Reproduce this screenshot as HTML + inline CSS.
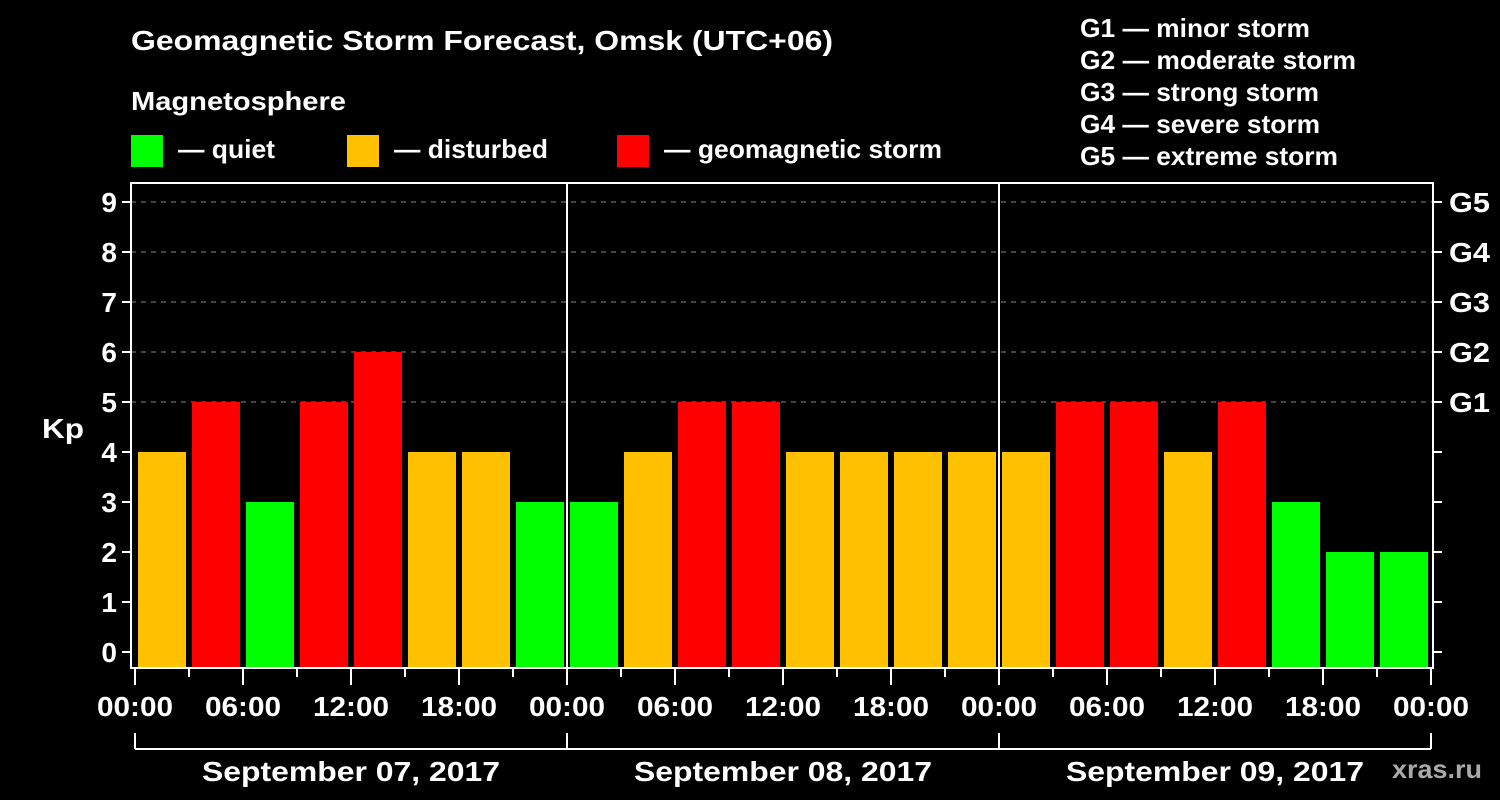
<!DOCTYPE html>
<html><head><meta charset="utf-8"><style>
body{margin:0;background:#000;width:1500px;height:800px;overflow:hidden}
svg{display:block;font-family:"Liberation Sans",Arial,sans-serif;font-weight:bold}
</style></head><body>
<svg id="c" width="1500" height="800">
<text x="131" y="50" fill="#fff" font-size="28" textLength="702" lengthAdjust="spacingAndGlyphs">Geomagnetic Storm Forecast, Omsk (UTC+06)</text>
<text x="131" y="110" fill="#fff" font-size="26" textLength="215" lengthAdjust="spacingAndGlyphs">Magnetosphere</text>
<g><rect x="131" y="135" width="32" height="32" fill="#00ff00"/><text x="178" y="158" fill="#fff" font-size="26" textLength="97" lengthAdjust="spacingAndGlyphs">— quiet</text></g>
<g><rect x="347" y="135" width="32" height="32" fill="#ffc000"/><text x="394" y="158" fill="#fff" font-size="26" textLength="154" lengthAdjust="spacingAndGlyphs">— disturbed</text></g>
<g><rect x="617" y="135" width="32" height="32" fill="#ff0000"/><text x="664" y="158" fill="#fff" font-size="26" textLength="278" lengthAdjust="spacingAndGlyphs">— geomagnetic storm</text></g>
<g fill="#fff" font-size="26">
<text x="1080" y="37" textLength="230" lengthAdjust="spacingAndGlyphs">G1 — minor storm</text><text x="1080" y="69" textLength="276" lengthAdjust="spacingAndGlyphs">G2 — moderate storm</text><text x="1080" y="101" textLength="239" lengthAdjust="spacingAndGlyphs">G3 — strong storm</text><text x="1080" y="133" textLength="240" lengthAdjust="spacingAndGlyphs">G4 — severe storm</text><text x="1080" y="165" textLength="258" lengthAdjust="spacingAndGlyphs">G5 — extreme storm</text></g>
<text x="42" y="438" fill="#fff" font-size="28" textLength="42" lengthAdjust="spacingAndGlyphs">Kp</text>
<text x="1392" y="778" fill="#aaa" font-size="26" textLength="90" lengthAdjust="spacingAndGlyphs">xras.ru</text>
<g id="plot"></g>
</svg>
<script>
const dates=["September 07, 2017","September 08, 2017","September 09, 2017"];
const kp=[4,5,3,5,6,4,4,3, 3,4,5,5,4,4,4,4, 4,5,5,4,5,3,2,2];
const yTicks=[0,1,2,3,4,5,6,7,8,9];
const gLabels=["G1","G2","G3","G4","G5"];
const hourLabels=["00:00","06:00","12:00","18:00"];
const NS="http://www.w3.org/2000/svg";
const g=document.getElementById('plot');
const L=131,R=1433,T=183,B=668;
const x=h=>135+h*18;
const y=v=>652-v*50;
function mk(t,a){const e=document.createElementNS(NS,t);for(const k in a)e.setAttribute(k,a[k]);g.appendChild(e);return e;}
yTicks.forEach(v=>{
 if(v>=5){const l=mk('line',{x1:L,x2:R,y1:y(v),y2:y(v),stroke:'#888','stroke-dasharray':'5,5','stroke-width':1});
 
 }
 const t=mk('line',{x1:L-9,x2:L,y1:y(v),y2:y(v),stroke:'#fff','stroke-width':2});
 
 
 const t2=mk('line',{x1:R,x2:R+9,y1:y(v),y2:y(v),stroke:'#fff','stroke-width':2});
 
 
 const tx=mk('text',{x:L-14,y:y(v)+10,fill:'#fff','font-size':28,'text-anchor':'end'});tx.textContent=v;
 
 
});
gLabels.forEach((s,i)=>{const tx=mk('text',{x:1449,y:y(5+i)+10,fill:'#fff','font-size':28,textLength:41,lengthAdjust:'spacingAndGlyphs'});tx.textContent=s;
 
 });
kp.forEach((v,i)=>{const c=v>=5?'#ff0000':v==4?'#ffc000':'#00ff00';
 const r=mk('rect',{x:x(i*3)+3,y:y(v),width:48,height:B-y(v),fill:c});
 
 });
const f=mk('rect',{x:L,y:T,width:R-L,height:B-T,fill:'none',stroke:'#fff','stroke-width':2});


for(let d=1;d<dates.length;d++){const l=mk('line',{x1:x(d*24),x2:x(d*24),y1:T,y2:B,stroke:'#fff','stroke-width':2});
 
 }
for(let h=0;h<=72;h+=3){const major=h%6==0;
 const l=mk('line',{x1:x(h),x2:x(h),y1:B,y2:major?B+17:B+9,stroke:'#fff','stroke-width':2});
 
 
 if(major){const tx=mk('text',{x:x(h),y:716,fill:'#fff','font-size':28,'text-anchor':'middle',textLength:76,lengthAdjust:'spacingAndGlyphs'});tx.textContent=hourLabels[(h/6)%4];
 
 }}
const bl=mk('line',{x1:x(0),x2:x(72),y1:749,y2:749,stroke:'#fff','stroke-width':2});


for(let d=0;d<=dates.length;d++){const l=mk('line',{x1:x(d*24),x2:x(d*24),y1:733,y2:749,stroke:'#fff','stroke-width':2});
 
 }
dates.forEach((s,d)=>{const tx=mk('text',{x:x(d*24+12),y:781,fill:'#fff','font-size':28,'text-anchor':'middle',textLength:298,lengthAdjust:'spacingAndGlyphs'});tx.textContent=s;
 
 });
</script>
</body></html>
